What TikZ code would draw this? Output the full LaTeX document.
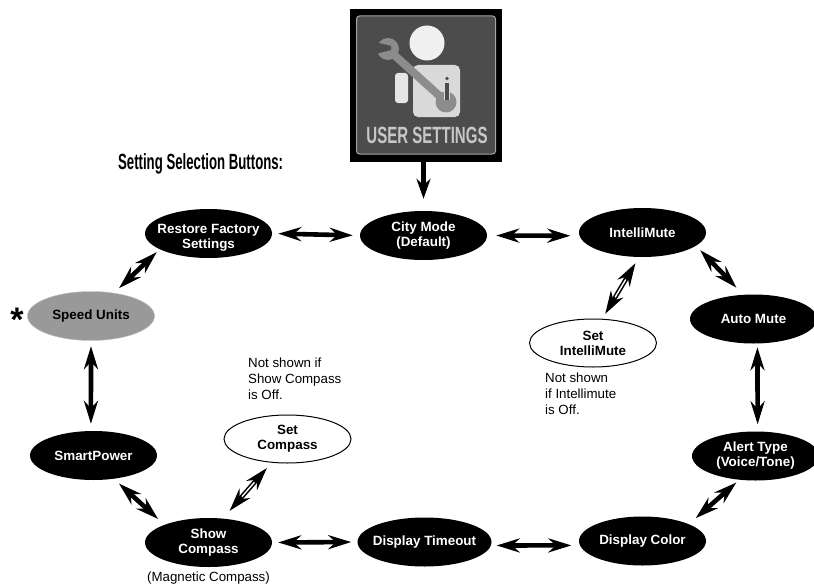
\documentclass[tikz,border=0pt]{standalone}
\usepackage{fontspec}
\setmainfont{Liberation Sans}
\usetikzlibrary{arrows.meta,shapes.geometric,calc}
\tikzset{
  x=1pt,y=-1pt,
  blackbtn/.style={ellipse,fill=black,text=white,font=\fontsize{13.4}{15}\selectfont\bfseries,align=center,minimum width=127pt,minimum height=49pt,inner xsep=-30pt,inner ysep=-12pt},
  greybtn/.style={blackbtn,fill=black!40,text=black,draw=black!25,line width=.4pt},
  whitebtn/.style={blackbtn,fill=white,text=black,draw=black,line width=1pt,minimum height=48pt},
  note/.style={font=\fontsize{13.3}{16}\selectfont,align=left,anchor=north west,inner sep=0pt},
  both/.style={line width=4.6pt,{Stealth[length=23pt,width=14pt]}-{Stealth[length=23pt,width=14pt]}},
  single/.style={line width=4.6pt,-{Stealth[length=20pt,width=14pt]}},
  core/.style={white,line width=1.4pt},
}
\begin{document}
\begin{tikzpicture}
\useasboundingbox (0,0) rectangle (814,586);
% icon
\node[fill=black,minimum width=152pt,minimum height=153pt,inner sep=0pt] (icon) at (426,85.5) {};
\node[draw=black!35,fill=black!70,rounded corners=3pt,line width=1pt,minimum width=139pt,minimum height=138pt,inner sep=0pt] (iconin) at (426,85) {};
\fill[black!6] (427,43) circle (17.5);
\fill[black!15,rounded corners=5pt] (413,65) rectangle (460,117);
\fill[black!10,rounded corners=3pt] (395,73) rectangle (408,103);
\draw[black!45,line width=8pt] (392,53) -- (444,100);
\fill[black!45] (388,49) circle (11);
\fill[black!70] (375,42) -- (391,46) -- (391,50) -- (375,54) -- cycle;
\fill[black!45] (446,102) circle (10.5);
\fill[black!15] (444,92) rectangle (450,100);
\fill[black!70] (447,78.5) circle (1.8);
\fill[black!70] (445,83) rectangle (449,100);
\node[text=black!22,font=\fontsize{23.5}{24}\selectfont\bfseries,xscale=.64,inner sep=0pt] (icontext) at (427,135.5) {USER SETTINGS};
% title
\node[font=\fontsize{22}{24}\selectfont\bfseries,xscale=.6,anchor=west,inner sep=0pt] (title) at (118,164) {Setting Selection Buttons:};
% buttons
\node[blackbtn] (restore) at (208.5,233.5) {\rule{0pt}{18pt}Restore Factory\\Settings};
\node[blackbtn] (city) at (423.5,235.5) {City Mode\\(Default)};
\node[blackbtn] (intelli) at (642.5,232.5) {IntelliMute};
\node[blackbtn] (auto) at (753.5,319) {Auto Mute};
\node[blackbtn] (alert) at (755.5,456) {Alert Type\\(Voice/Tone)};
\node[blackbtn] (color) at (642.5,541) {Display Color};
\node[blackbtn,minimum width=134pt] (timeout) at (424.5,542) {Display Timeout};
\node[blackbtn] (compass) at (208.5,542.5) {Show\\Compass};
\node[blackbtn] (smart) at (93.5,455.5) {SmartPower};
\node[greybtn] (speed) at (91,316) {Speed Units};
\node[whitebtn] (setintelli) at (593,343) {Set\\IntelliMute};
\node[whitebtn] (setcompass) at (287.5,439) {Set\\Compass};
% notes
\node[font=\fontsize{34}{34}\selectfont\bfseries,inner sep=0pt] (star) at (17,320) {*};
\node[note] (n1) at (248,358) {Not shown if\\Show Compass\\is Off.};
\node[note] (n2) at (545,373) {Not shown\\if Intellimute\\is Off.};
\node[font=\fontsize{13.3}{16}\selectfont,inner sep=0pt] (n3) at (208.5,578) {(Magnetic Compass)};
% connectors
\draw[single,shorten >=12pt] (icon.south -| city) -- (city.north);
\draw[both,shorten <=6pt,shorten >=7pt] (restore.east) -- (city.west);
\draw[both,shorten <=9pt,shorten >=9pt] (city.east) -- (intelli.183);
\draw[both,shorten <=6pt,shorten >=9.6pt] (intelli.-14.8) -- (auto.113.7);
\draw[both,shorten <=3.6pt,shorten >=7pt] (auto.-81) -- (alert.85);
\draw[both,shorten <=4pt,shorten >=9pt] (alert.236) -- (color.20);
\draw[both,shorten <=8.4pt,shorten >=5.6pt] (color.184) -- (timeout.-3);
\draw[both,shorten <=6pt,shorten >=6pt] (timeout.west) -- (compass.east);
\draw[both,shorten <=8.5pt,shorten >=7pt] (compass.158.7) -- (smart.-49.3);
\draw[both,shorten <=7pt,shorten >=5.5pt] (smart.96) -- (speed.south);
\draw[both,shorten <=7pt,shorten >=4pt] (speed.45) -- (restore.198.8);
\draw[both,shorten <=7pt,shorten >=5.6pt] (intelli.262) -- (setintelli.69);
\draw[core,shorten <=26pt,shorten >=25pt] (intelli.262) -- (setintelli.69);
\draw[both,shorten <=10pt,shorten >=7pt] (compass.59) -- (setcompass.236);
\draw[core,shorten <=29pt,shorten >=26pt] (compass.59) -- (setcompass.236);
\end{tikzpicture}
\end{document}
